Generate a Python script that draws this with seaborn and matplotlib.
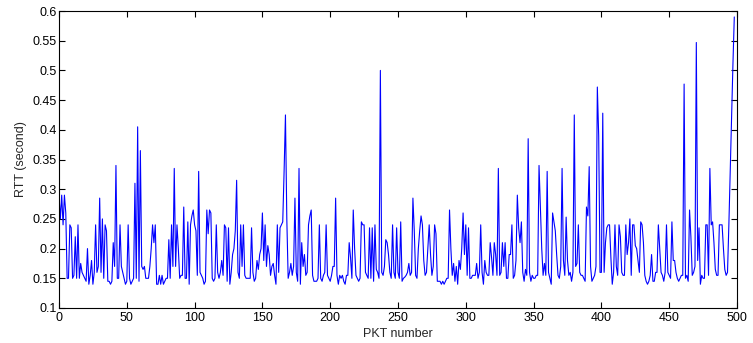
import numpy as np
import pandas as pd
import matplotlib
matplotlib.use("Agg")
import matplotlib.pyplot as plt
from matplotlib.ticker import FuncFormatter
import seaborn as sns

rtt_0_50 = [0.29, 0.25, 0.29, 0.24, 0.29, 0.26, 0.15, 0.15, 0.24, 0.235,
            0.15, 0.155, 0.22, 0.15, 0.24, 0.15, 0.175, 0.16, 0.155, 0.15,
            0.145, 0.2, 0.14, 0.155, 0.18, 0.14, 0.16, 0.24, 0.16, 0.17,
            0.285, 0.16, 0.25, 0.15, 0.24, 0.23, 0.145, 0.145, 0.14, 0.145,
            0.21, 0.17, 0.34, 0.15, 0.15, 0.24, 0.17, 0.16, 0.15, 0.14, 0.145]
rtt_51_100 = [0.24, 0.15, 0.14, 0.145, 0.15, 0.31, 0.15, 0.405, 0.145, 0.365,
              0.17, 0.165, 0.17, 0.15, 0.15, 0.15, 0.17, 0.2, 0.24, 0.21,
              0.24, 0.14, 0.14, 0.155, 0.14, 0.155, 0.14, 0.145, 0.15, 0.15,
              0.215, 0.15, 0.24, 0.17, 0.335, 0.17, 0.24, 0.2, 0.15, 0.155,
              0.155, 0.27, 0.15, 0.15, 0.245, 0.14, 0.24, 0.255, 0.265, 0.24]
rtt_101_150 = [0.23, 0.155, 0.33, 0.16, 0.155, 0.15, 0.14, 0.145, 0.265, 0.225,
               0.265, 0.26, 0.15, 0.145, 0.15, 0.24, 0.16, 0.15, 0.16, 0.18,
               0.155, 0.24, 0.235, 0.145, 0.235, 0.14, 0.16, 0.19, 0.2, 0.23,
               0.315, 0.16, 0.15, 0.24, 0.17, 0.24, 0.155, 0.15, 0.15, 0.15,
               0.15, 0.235, 0.16, 0.145, 0.15, 0.18, 0.165, 0.19, 0.2, 0.26]
rtt_151_200 = [0.18, 0.24, 0.17, 0.205, 0.19, 0.155, 0.17, 0.175, 0.155, 0.14,
               0.24, 0.16, 0.235, 0.24, 0.245, 0.33, 0.425, 0.25, 0.15, 0.16,
               0.175, 0.155, 0.17, 0.285, 0.16, 0.145, 0.335, 0.14, 0.21, 0.17,
               0.19, 0.155, 0.16, 0.24, 0.255, 0.265, 0.155, 0.145, 0.145, 0.145,
               0.15, 0.24, 0.15, 0.145, 0.155, 0.16, 0.24, 0.155, 0.15, 0.145]
rtt_201_250 = [0.155, 0.17, 0.17, 0.285, 0.155, 0.14, 0.155, 0.15, 0.155, 0.145,
               0.14, 0.155, 0.155, 0.21, 0.185, 0.15, 0.265, 0.2, 0.155, 0.15,
               0.145, 0.15, 0.245, 0.24, 0.24, 0.16, 0.155, 0.15, 0.235, 0.15,
               0.235, 0.145, 0.24, 0.165, 0.16, 0.15, 0.5, 0.16, 0.155, 0.17,
               0.215, 0.21, 0.19, 0.16, 0.15, 0.24, 0.16, 0.15, 0.235, 0.16]
rtt_251_300 = [0.15, 0.245, 0.145, 0.15, 0.152, 0.155, 0.16, 0.175, 0.155, 0.16,
               0.285, 0.23, 0.155, 0.15, 0.2, 0.23, 0.255, 0.24, 0.18, 0.155,
               0.16, 0.2, 0.24, 0.19, 0.155, 0.17, 0.24, 0.225, 0.145, 0.145,
               0.145, 0.14, 0.145, 0.14, 0.145, 0.15, 0.15, 0.265, 0.2, 0.155,
               0.175, 0.145, 0.17, 0.14, 0.18, 0.165, 0.2, 0.26, 0.19, 0.24]
rtt_301_350 = [0.155, 0.235, 0.15, 0.15, 0.155, 0.155, 0.155, 0.175, 0.15, 0.16,
               0.24, 0.16, 0.14, 0.18, 0.16, 0.155, 0.155, 0.21, 0.185, 0.155,
               0.21, 0.19, 0.155, 0.335, 0.155, 0.16, 0.21, 0.17, 0.21, 0.15,
               0.15, 0.19, 0.19, 0.24, 0.15, 0.155, 0.18, 0.29, 0.235, 0.21,
               0.245, 0.16, 0.145, 0.165, 0.155, 0.385, 0.16, 0.145, 0.155, 0.15]
rtt_351_400 = [0.15, 0.155, 0.155, 0.34, 0.27, 0.2, 0.155, 0.175, 0.155, 0.33,
               0.16, 0.15, 0.14, 0.26, 0.245, 0.23, 0.19, 0.155, 0.15, 0.17,
               0.335, 0.18, 0.155, 0.253, 0.18, 0.155, 0.16, 0.145, 0.16, 0.425,
               0.17, 0.175, 0.24, 0.16, 0.155, 0.155, 0.15, 0.145, 0.27, 0.255,
               0.338, 0.17, 0.145, 0.15, 0.155, 0.17, 0.472, 0.39, 0.16, 0.16]
rtt_401_450 = [0.428, 0.16, 0.21, 0.235, 0.24, 0.24, 0.185, 0.14, 0.16, 0.24,
               0.17, 0.155, 0.24, 0.22, 0.16, 0.155, 0.155, 0.24, 0.19, 0.21,
               0.25, 0.155, 0.24, 0.24, 0.205, 0.2, 0.18, 0.16, 0.245, 0.24,
               0.21, 0.155, 0.145, 0.14, 0.145, 0.155, 0.19, 0.145, 0.145, 0.16,
               0.16, 0.24, 0.2, 0.16, 0.155, 0.145, 0.16, 0.24, 0.16, 0.155]
rtt_451_498 = [0.15, 0.245, 0.18, 0.18, 0.16, 0.15, 0.145, 0.15, 0.155, 0.155,
               0.477, 0.15, 0.155, 0.145, 0.265, 0.22, 0.155, 0.16, 0.17, 0.547,
               0.18, 0.235, 0.14, 0.155, 0.15, 0.15, 0.24, 0.24, 0.155, 0.335,
               0.24, 0.245, 0.21, 0.165, 0.155, 0.155, 0.24, 0.24, 0.24, 0.2,
               0.165, 0.155, 0.16, 0.24, 0.33, 0.42, 0.51, 0.59]

rtt = (rtt_0_50 + rtt_51_100 + rtt_101_150 + rtt_151_200 + rtt_201_250 +
       rtt_251_300 + rtt_301_350 + rtt_351_400 + rtt_401_450 + rtt_451_498)
pkt = list(range(len(rtt)))

x_ticks = [0, 50, 100, 150, 200, 250, 300, 350, 400, 450, 500]
y_ticks = [0.1, 0.15, 0.2, 0.25, 0.3, 0.35, 0.4, 0.45, 0.5, 0.55, 0.6]
x_label = "PKT number"
y_label = "RTT (second)"

sns.set_style("ticks")
plt.rcParams['font.family'] = ['Liberation Sans', 'DejaVu Sans']
plt.rcParams['font.size'] = 9

df = pd.DataFrame({"pkt": pkt, "rtt": rtt})

fig = plt.figure(figsize=(7.53, 3.43), dpi=100)
ax = fig.add_axes([59 / 753, 1 - 308 / 343, (737 - 59) / 753, (308 - 11) / 343])
sns.lineplot(data=df, x="pkt", y="rtt", ax=ax, color="#0000FF", linewidth=0.8)

ax.set_xlim(0, 500)
ax.set_ylim(0.1, 0.6)
ax.set_xticks(x_ticks)
ax.set_yticks(y_ticks)
ax.yaxis.set_major_formatter(FuncFormatter(lambda v, p: f"{v:g}"))
ax.tick_params(direction="in", length=4, width=0.8, top=True, right=True,
               labelsize=9, colors="black")
ax.tick_params(axis="x", pad=3)
ax.tick_params(axis="y", pad=1.5)
for s in ax.spines.values():
    s.set_visible(True)
    s.set_linewidth(0.8)
    s.set_color("black")
ax.set_xlabel(x_label, fontsize=9, labelpad=2.5)
ax.set_ylabel(y_label, fontsize=9, labelpad=4)

fig.savefig("out.png", dpi=100)
